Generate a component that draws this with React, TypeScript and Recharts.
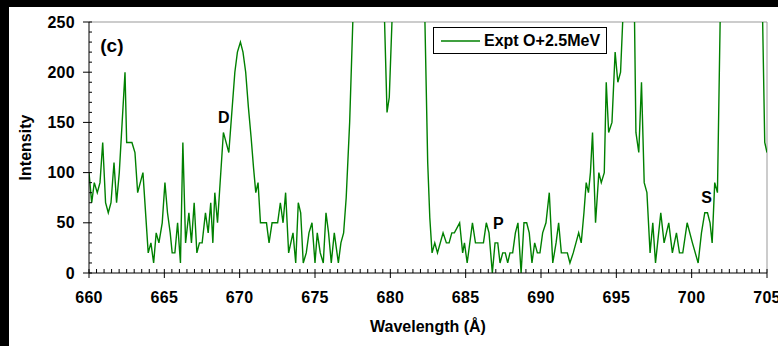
import React from "react";
import {
  LineChart,
  Line,
  XAxis,
  YAxis,
  ReferenceLine,
  ReferenceDot,
} from "recharts";

const SERIES_NAME = "Expt O+2.5MeV";
const X_TITLE = "Wavelength (Å)";
const Y_TITLE = "Intensity";

const X_TICKS = [660, 665, 670, 675, 680, 685, 690, 695, 700, 705];
const Y_TICKS = [0, 50, 100, 150, 200, 250];
const X_MINOR = Array.from({ length: 91 }, (_, i) => 660 + i * 0.5);
const Y_MINOR = Array.from({ length: 26 }, (_, i) => i * 10);

// wavelength (Å) of each sample
const wavelengths = [
  660.0, 660.18, 660.35, 660.55, 660.73, 660.91, 661.1, 661.28, 661.46, 661.66,
  661.83, 662.01, 662.39, 662.5, 662.85, 663.05, 663.23, 663.58, 663.93, 664.11,
  664.29, 664.46, 664.64, 664.86, 665.04, 665.21, 665.39, 665.52, 665.7, 665.88,
  666.07, 666.23, 666.41, 666.63, 666.8, 666.98, 667.16, 667.33, 667.51, 667.73,
  667.91, 668.08, 668.22, 668.35, 668.53, 668.92, 669.28, 669.68, 669.85, 670.05,
  670.22, 670.4, 670.58, 670.76, 670.92, 671.07, 671.22, 671.38, 671.78, 671.95,
  672.15, 672.52, 672.7, 672.88, 673.05, 673.25, 673.54, 673.72, 673.89, 674.05,
  674.22, 674.42, 674.6, 674.8, 675.0, 675.15, 675.35, 675.55, 675.73, 675.9,
  676.08, 676.28, 676.55, 676.72, 676.9, 677.07, 677.3, 677.52, 677.75, 678.2,
  678.8, 679.3, 679.6, 679.78, 679.93, 680.12, 680.4, 681.0, 681.6, 682.0,
  682.29, 682.48, 682.62, 682.77, 682.95, 683.13, 683.5, 683.72, 683.9, 684.08,
  684.25, 684.6, 684.8, 684.92, 685.1, 685.45, 685.65, 685.82, 686.0, 686.18,
  686.37, 686.55, 686.77, 686.95, 687.13, 687.28, 687.46, 687.63, 687.79, 687.94,
  688.12, 688.3, 688.47, 688.68, 688.87, 689.05, 689.22, 689.4, 689.58, 689.76,
  689.93, 690.11, 690.33, 690.55, 690.78, 691.0, 691.17, 691.35, 691.57, 691.75,
  691.92, 692.14, 692.32, 692.5, 692.67, 692.85, 693.0, 693.15, 693.28, 693.42,
  693.62, 693.84, 694.0, 694.2, 694.33, 694.49, 694.71, 694.92, 695.1, 695.28,
  695.45, 695.7, 696.0, 696.2, 696.3, 696.49, 696.67, 696.85, 697.03, 697.24,
  697.42, 697.6, 697.95, 698.17, 698.48, 698.72, 698.99, 699.19, 699.41, 699.7,
  700.05, 700.43, 700.65, 700.87, 701.05, 701.22, 701.36, 701.53, 701.71, 701.9,
  702.3, 703.5, 704.5, 704.7, 704.85, 705.0,
];

// counts, off-scale peaks go above 250
const intensities = [
  100, 70, 90, 80, 90, 130, 70, 60, 70, 110,
  70, 100, 200, 130, 130, 120, 80, 100, 20, 30,
  10, 40, 30, 50, 90, 60, 40, 20, 20, 50,
  10, 130, 30, 60, 30, 70, 20, 30, 30, 60,
  40, 70, 30, 80, 50, 140, 120, 200, 220, 230,
  220, 200, 165, 135, 105, 80, 90, 50, 50, 30,
  50, 50, 70, 50, 80, 20, 40, 10, 70, 60,
  10, 20, 40, 50, 10, 40, 20, 10, 60, 40,
  10, 40, 10, 30, 40, 75, 150, 255, 600, 1200,
  1500, 900, 260, 160, 175, 255, 800, 1400, 1000, 600,
  255, 110, 55, 20, 30, 20, 40, 30, 30, 40,
  40, 50, 20, 30, 10, 50, 30, 30, 30, 30,
  50, 40, 0, 30, 30, 10, 20, 20, 10, 20,
  20, 40, 50, 0, 50, 50, 40, 10, 30, 20,
  20, 40, 50, 80, 10, 30, 50, 20, 20, 20,
  10, 20, 30, 40, 30, 60, 90, 80, 100, 140,
  50, 100, 90, 100, 190, 140, 150, 220, 190, 200,
  260, 700, 600, 260, 140, 120, 190, 90, 80, 20,
  50, 10, 60, 30, 50, 20, 40, 20, 20, 50,
  30, 10, 40, 60, 60, 50, 30, 90, 80, 260,
  900, 1200, 600, 260, 130, 120,
];

const data = wavelengths.map((w, i) => ({ w, v: intensities[i] }));

const FONT = '"Liberation Sans", Arial, Helvetica, sans-serif';
const GREEN = "#008000";

const XTick = (p: any) => (
  <text x={p.x} y={p.y} dy={11} textAnchor="middle" fontFamily={FONT} fontSize={16} fontWeight={700} fill="#000" letterSpacing={0.3}>
    {p.payload.value}
  </text>
);

const YTick = (p: any) => (
  <text x={p.x} y={p.y} dy={5.5} textAnchor="end" fontFamily={FONT} fontSize={16} fontWeight={700} fill="#000" letterSpacing={0.3}>
    {p.payload.value}
  </text>
);

// minor ticks point into the plot
const XMinorTick = (p: any) => <line x1={p.x} y1={p.y} x2={p.x} y2={p.y - 4} stroke="#000" strokeWidth={1} />;
const YMinorTick = (p: any) => <line x1={p.x} y1={p.y} x2={p.x + 3} y2={p.y} stroke="#000" strokeWidth={1} />;

const note = (value: string, size = 16) => ({
  value,
  position: "center" as const,
  fill: "#000",
  fontSize: size,
  fontWeight: 700,
  fontFamily: FONT,
});

export default function App() {
  return (
    <div style={{ position: "absolute", left: 0, top: 0, width: 778, height: 346, background: "#000" }}>
      <div style={{ position: "absolute", left: 9, top: 7, width: 769, height: 339, background: "#fff" }}>
        <LineChart width={769} height={339} data={data} margin={{ top: 15, right: 11, bottom: 0, left: 0 }}>
          <XAxis
            dataKey="w"
            type="number"
            domain={[660, 705]}
            ticks={X_TICKS}
            interval={0}
            allowDataOverflow
            height={73}
            tickSize={5}
            tickMargin={14}
            axisLine={{ stroke: "#000" }}
            tickLine={{ stroke: "#000" }}
            tick={(p: any) => <XTick {...p} />}
            label={{ value: X_TITLE, position: "insideBottom", offset: 14, fill: "#000", fontSize: 16, fontWeight: 700, fontFamily: FONT }}
          />
          <YAxis
            type="number"
            domain={[0, 250]}
            ticks={Y_TICKS}
            interval={0}
            allowDataOverflow
            width={80}
            tickSize={6}
            tickMargin={8}
            axisLine={{ stroke: "#000" }}
            tickLine={{ stroke: "#000" }}
            tick={(p: any) => <YTick {...p} />}
            label={{
              content: ({ viewBox }: any) => (
                <text
                  transform={`translate(${viewBox.x + 16},${viewBox.y + viewBox.height / 2}) rotate(-90)`}
                  textAnchor="middle"
                  dominantBaseline="central"
                  fontFamily={FONT}
                  fontSize={16}
                  fontWeight={700}
                  fill="#000"
                >
                  {Y_TITLE}
                </text>
              ),
            }}
          />
          <XAxis
            xAxisId="minor"
            dataKey="w"
            type="number"
            domain={[660, 705]}
            ticks={X_MINOR}
            interval={0}
            allowDataOverflow
            mirror
            height={1}
            axisLine={false}
            tickLine={false}
            tickSize={0}
            tickMargin={0}
            tick={(p: any) => <XMinorTick {...p} />}
          />
          <YAxis
            yAxisId="minor"
            type="number"
            domain={[0, 250]}
            ticks={Y_MINOR}
            interval={0}
            allowDataOverflow
            mirror
            width={1}
            axisLine={false}
            tickLine={false}
            tickSize={0}
            tickMargin={0}
            tick={(p: any) => <YMinorTick {...p} />}
          />
          <ReferenceLine y={250} stroke="#999" strokeWidth={1} />
          <ReferenceLine x={705} stroke="#999" strokeWidth={1} />
          <Line
            dataKey="v"
            type="linear"
            stroke={GREEN}
            strokeWidth={1.4}
            dot={false}
            isAnimationActive={false}
          />
          <ReferenceDot x={661.52} y={227} r={0} fill="none" stroke="none" label={note("(c)", 19)} />
          <ReferenceDot x={668.95} y={155} r={0} fill="none" stroke="none" label={note("D")} />
          <ReferenceDot x={687.17} y={49} r={0} fill="none" stroke="none" label={note("P")} />
          <ReferenceDot x={700.99} y={75} r={0} fill="none" stroke="none" label={note("S")} />
        </LineChart>
        <div
          style={{
            position: "absolute",
            left: 424,
            top: 20,
            width: 172,
            height: 25,
            border: "1px solid #000",
            background: "#fff",
            display: "flex",
            alignItems: "center",
            fontFamily: FONT,
            fontSize: 16,
            fontWeight: 700,
            color: "#000",
          }}
        >
          <svg width={50} height={10} style={{ flex: "none" }}>
            <line x1={7} y1={5} x2={46} y2={5} stroke={GREEN} strokeWidth={1.4} />
          </svg>
          <span style={{ whiteSpace: "nowrap" }}>{SERIES_NAME}</span>
        </div>
      </div>
    </div>
  );
}
